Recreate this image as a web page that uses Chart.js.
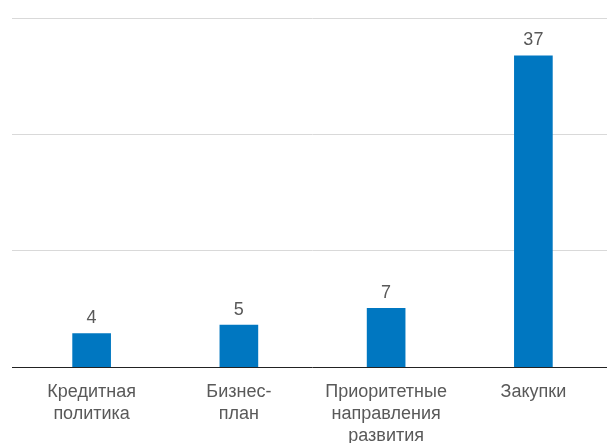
<!DOCTYPE html>
<html>
<head>
<meta charset="utf-8">
<script src="https://cdn.jsdelivr.net/npm/chart.js@4/dist/chart.umd.min.js"></script>
<style>
html,body{margin:0;padding:0;overflow:hidden;background:#fff;}
#wrap{width:608px;height:443px;overflow:hidden;}
</style>
</head>
<body>
<div id="wrap"><canvas id="c" width="608" height="465"></canvas></div>
<script>
const categories = [["Кредитная","политика"],["Бизнес-","план"],["Приоритетные","направления","развития"],["Закупки"]];
const values = [4, 5, 7, 37];
const yTicks = [0, 13.83, 27.67, 41.5];

const FONT = "'Liberation Sans', Arial, Helvetica, sans-serif";

const valueLabels = {
  id: 'valueLabels',
  afterDatasetsDraw(chart) {
    const ctx = chart.ctx;
    const meta = chart.getDatasetMeta(0);
    ctx.save();
    ctx.font = "18px " + FONT;
    ctx.fillStyle = '#595959';
    ctx.textAlign = 'center';
    ctx.textBaseline = 'alphabetic';
    meta.data.forEach((bar, i) => {
      ctx.fillText(String(values[i]), bar.x, bar.y - 10.5);
    });
    ctx.restore();
  }
};

new Chart(document.getElementById('c'), {
  type: 'bar',
  data: {
    labels: categories,
    datasets: [{
      data: values,
      backgroundColor: '#0077c1',
      borderWidth: 0,
      barThickness: 38
    }]
  },
  options: {
    responsive: false,
    animation: false,
    layout: { padding: { left: 12, right: 1, top: 18, bottom: 4 } },
    plugins: { legend: { display: false }, tooltip: { enabled: false } },
    scales: {
      x: {
        grid: { display: false, drawTicks: false, tickLength: 0 },
        border: { display: false },
        ticks: {
          color: '#595959',
          padding: 14.5,
          maxRotation: 0,
          autoSkip: false,
          font: { family: FONT, size: 18, lineHeight: 1.2 }
        }
      },
      y: {
        min: 0,
        max: 41.5,
        afterBuildTicks(scale) { scale.ticks = yTicks.map(v => ({ value: v })); },
        border: { display: false },
        grid: {
          color: ctx => (ctx.tick && ctx.tick.value === 0) ? '#222222' : '#d9d9d9',
          lineWidth: 1,
          drawTicks: true,
          tickLength: 6
        },
        ticks: { display: false }
      }
    }
  },
  plugins: [valueLabels]
});
</script>
</body>
</html>
